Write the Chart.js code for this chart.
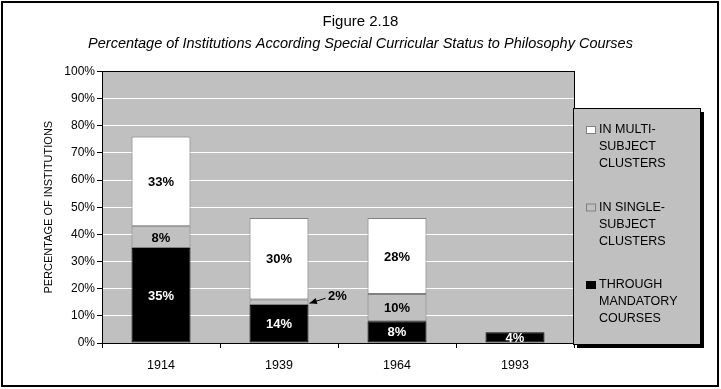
<!DOCTYPE html>
<html>
<head>
<meta charset="utf-8">
<script src="https://cdn.jsdelivr.net/npm/chart.js@4.4.1/dist/chart.umd.min.js"></script>
<style>
  html, body { margin: 0; padding: 0; background: #fff; }
</style>
</head>
<body>
<canvas id="chart" width="721" height="389"></canvas>
<script>
// chart data
const years = ['1914', '1939', '1964', '1993'];
const mandatory = [35, 14, 8, 4];
const singleSubject = [8, 2, 10, null];
const multiSubject = [33, 30, 28, null];
const seriesNames = ['THROUGH MANDATORY COURSES', 'IN SINGLE-SUBJECT CLUSTERS', 'IN MULTI-SUBJECT CLUSTERS'];
const legendLines = [
    ['IN MULTI-', 'SUBJECT', 'CLUSTERS'],
    ['IN SINGLE-', 'SUBJECT', 'CLUSTERS'],
    ['THROUGH', 'MANDATORY', 'COURSES']
];
const yTickStep = 10;

const FONT = '"Liberation Sans", Arial, sans-serif';
const GRAY = '#c0c0c0';

// gray plot background
const plotBackground = {
    id: 'plotBackground',
    beforeDraw(chart) {
        const { ctx, chartArea: a } = chart;
        ctx.save();
        ctx.fillStyle = GRAY;
        ctx.fillRect(a.left, a.top, a.right - a.left, a.bottom - a.top);
        ctx.restore();
    }
};

// value labels on the bar segments
const valueLabels = {
    id: 'valueLabels',
    afterDatasetsDraw(chart) {
        const ctx = chart.ctx;
        ctx.save();
        ctx.font = 'bold 13px ' + FONT;
        ctx.textAlign = 'center';
        ctx.textBaseline = 'middle';
        chart.data.datasets.forEach((ds, di) => {
            const meta = chart.getDatasetMeta(di);
            meta.data.forEach((el, i) => {
                const v = ds.data[i];
                if (v == null) return;
                const midY = (el.y + el.base) / 2;
                if (v < 3) {
                    // small segment: label outside with an arrow
                    const right = el.x + el.width / 2;
                    const lx = right + 29, ly = midY - 6;
                    ctx.fillStyle = '#000';
                    ctx.fillText(v + '%', lx, ly);
                    const x0 = lx - 12, y0 = ly + 2, x1 = right + 1, y1 = midY + 1;
                    ctx.strokeStyle = '#000';
                    ctx.lineWidth = 1;
                    ctx.beginPath();
                    ctx.moveTo(x0, y0);
                    ctx.lineTo(x1, y1);
                    ctx.stroke();
                    const ang = Math.atan2(y1 - y0, x1 - x0);
                    ctx.beginPath();
                    ctx.moveTo(x1, y1);
                    ctx.lineTo(x1 - 8 * Math.cos(ang - 0.4), y1 - 8 * Math.sin(ang - 0.4));
                    ctx.lineTo(x1 - 8 * Math.cos(ang + 0.4), y1 - 8 * Math.sin(ang + 0.4));
                    ctx.closePath();
                    ctx.fill();
                    return;
                }
                ctx.fillStyle = di === 0 ? '#fff' : '#000';
                ctx.fillText(v + '%', el.x, midY + 1);
            });
        });
        ctx.restore();
    }
};

// plot border, legend box and outer frame
const frameAndLegend = {
    id: 'frameAndLegend',
    afterDraw(chart) {
        const { ctx, chartArea: a } = chart;
        ctx.save();
        ctx.strokeStyle = '#000';
        ctx.lineWidth = 1;
        const l = Math.round(a.left) + 0.5, t = Math.round(a.top) + 0.5;
        const r = Math.round(a.right) + 0.5, b = Math.round(a.bottom) + 0.5;
        ctx.strokeRect(l, t, r - l, b - t);

        // legend box with shadow
        const bx = 573, by = 108, bw = 127, bh = 236;
        ctx.fillStyle = '#000';
        ctx.fillRect(bx + 4, by + 4, bw, bh);
        ctx.fillStyle = GRAY;
        ctx.fillRect(bx, by, bw, bh);
        ctx.strokeRect(bx + 0.5, by + 0.5, bw, bh);

        const swatch = chart.data.datasets.slice().reverse();
        ctx.font = '12.5px ' + FONT;
        ctx.textAlign = 'left';
        ctx.textBaseline = 'middle';
        legendLines.forEach((lines, gi) => {
            const y0 = by + 22 + gi * 77.5;
            const ds = swatch[gi];
            ctx.fillStyle = ds.backgroundColor;
            ctx.fillRect(586, y0 - 4, 10, 8);
            ctx.strokeStyle = ds.borderColor;
            ctx.strokeRect(586.5, y0 - 3.5, 9, 7);
            ctx.fillStyle = '#000';
            lines.forEach((line, li) => {
                ctx.fillText(line, 599, y0 + li * 16.8);
            });
        });

        // outer frame
        ctx.strokeStyle = '#000';
        ctx.lineWidth = 2;
        ctx.strokeRect(2, 2, 716, 384);
        ctx.restore();
    }
};

new Chart(document.getElementById('chart'), {
    type: 'bar',
    data: {
        labels: years,
        datasets: [
            { label: seriesNames[0], data: mandatory, backgroundColor: '#000000', borderColor: '#000000' },
            { label: seriesNames[1], data: singleSubject, backgroundColor: GRAY, borderColor: '#808080' },
            { label: seriesNames[2], data: multiSubject, backgroundColor: '#ffffff', borderColor: '#808080' }
        ]
    },
    options: {
        responsive: false,
        animation: false,
        devicePixelRatio: 1,
        layout: { padding: 0 },
        datasets: {
            bar: { categoryPercentage: 1, barPercentage: 0.5, borderWidth: 1, borderSkipped: false }
        },
        plugins: {
            legend: { display: false },
            tooltip: { enabled: false },
            title: {
                display: true,
                text: 'Figure 2.18',
                color: '#000',
                font: { family: FONT, size: 15, weight: 'normal' },
                padding: { top: 13, bottom: 4 }
            },
            subtitle: {
                display: true,
                text: 'Percentage of Institutions According Special Curricular Status to Philosophy Courses',
                color: '#000',
                font: { family: FONT, size: 14.5, style: 'italic' },
                padding: { top: 0, bottom: 19 }
            }
        },
        scales: {
            x: {
                stacked: true,
                ticks: { color: '#000', font: { family: FONT, size: 12.5 }, padding: 10 },
                grid: { drawOnChartArea: false, offset: true, tickColor: '#000', tickLength: 5 },
                border: { color: '#000' },
                afterFit(s) { s.height = 46; }
            },
            y: {
                stacked: true,
                min: 0,
                max: 100,
                ticks: {
                    stepSize: yTickStep,
                    color: '#000',
                    font: { family: FONT, size: 12 },
                    padding: 2,
                    callback: v => v + '%'
                },
                grid: { color: '#ffffff', tickColor: '#000', tickLength: 5 },
                border: { color: '#000' },
                title: {
                    display: true,
                    text: 'PERCENTAGE OF INSTITUTIONS',
                    color: '#000',
                    font: { family: FONT, size: 11 },
                    padding: { top: 42, bottom: 0 }
                },
                afterFit(s) { s.width = 102; }
            },
            // empty right-hand space that holds the legend box
            yRight: {
                position: 'right',
                display: true,
                ticks: { display: false },
                grid: { display: false },
                border: { display: false },
                afterFit(s) { s.width = 147; }
            }
        }
    },
    plugins: [plotBackground, valueLabels, frameAndLegend]
});
</script>
</body>
</html>
